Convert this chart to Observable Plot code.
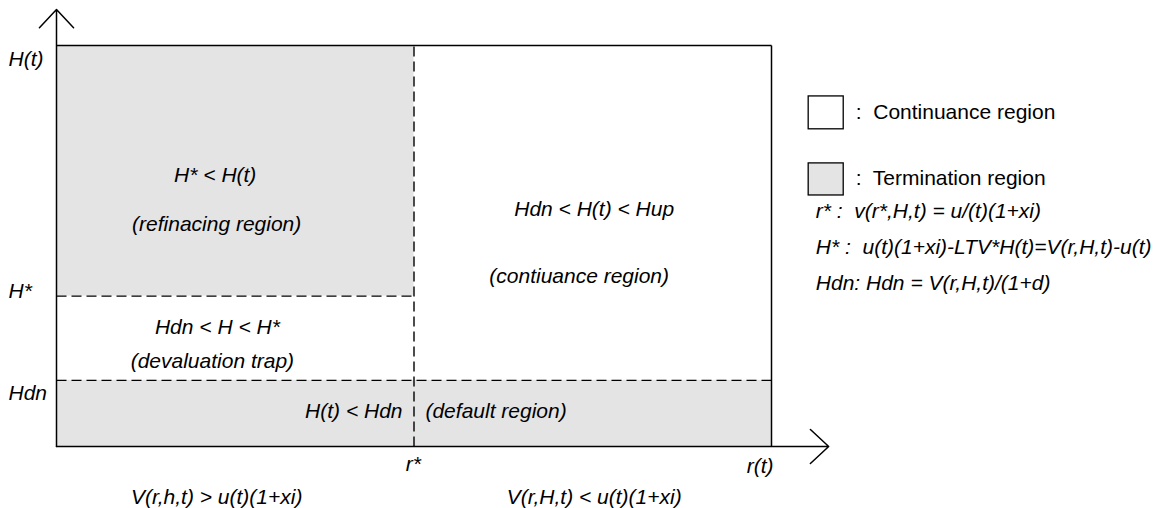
<!DOCTYPE html>
<html><head><meta charset="utf-8">
<script src="https://cdn.jsdelivr.net/npm/d3@7"></script>
<script src="https://cdn.jsdelivr.net/npm/@observablehq/plot@0.6"></script>
<style>
html,body{margin:0;padding:0;background:#fff;}
svg text{white-space:pre;}
</style></head><body><div id="chart"></div>
<script>
// ---- Data (r and H rescaled to a 0–100 scale) ----
const rBounds = [0, 50, 100];          // origin, r*, r(t)
const hBounds = [0, 16.5, 37.5, 100];  // origin, Hdn, H*, H(t)
const axisExtent = [108, 109];         // arrow tips (x, y) beyond the box

const regionKinds = ["termination", "termination"]; // refinancing, default
const regionLabels = [
  "H* < H(t)", "(refinacing region)", "Hdn < H < H*", "(devaluation trap)",
  "Hdn < H(t) < Hup", "(contiuance region)"
];
const regionLabelX = [22.2, 22.4, 22.5, 21.8, 75.2, 73.1];
const regionLabelY = [67.7, 55.5, 29.8, 21.3, 59.2, 42.5];
const defaultLabels = ["H(t) < Hdn", "(default region)"];
const defaultLabelX = [48.4, 51.6];
const defaultLabelY = [8.8, 8.8];

const yTickLabels = ["H(t)", "H*", "Hdn"];
const yTickY = [96.6, 38.75, 13.3];
const xTickLabels = ["r*", "r(t)", "V(r,h,t) > u(t)(1+xi)", "V(r,H,t) < u(t)(1+xi)"];
const xTickX = [49.9, 98.4, 22.4, 75.2];
const xTickY = [-4.4, -4.9, -12.6, -12.6];

const legendLabels = [":  Continuance region", ":  Termination region"];
const formulaLabels = [
  "r* :  v(r*,H,t) = u/(t)(1+xi)",
  "H* :  u(t)(1+xi)-LTV*H(t)=V(r,H,t)-u(t)",
  "Hdn: Hdn = V(r,H,t)/(1+d)"
];

// ---- Layout ----
const [r0, rStar, rMax] = rBounds;
const [h0, hDn, hStar, hMax] = hBounds;
const gray = "#e4e4e4";
const font = "Liberation Sans, Arial, Helvetica, sans-serif";
const fs = 21;

const regions = [
  {x1: r0, x2: rStar, y1: hStar, y2: hMax, kind: regionKinds[0]},
  {x1: r0, x2: rMax, y1: h0, y2: hDn, kind: regionKinds[1]}
];
const dashed = [
  {x1: rStar, y1: h0, x2: rStar, y2: hMax},
  {x1: r0, y1: hStar, x2: rStar, y2: hStar},
  {x1: r0, y1: hDn, x2: rMax, y2: hDn}
];
const solid = [
  {x1: r0, y1: hMax, x2: rMax, y2: hMax},
  {x1: rMax, y1: h0, x2: rMax, y2: hMax}
];
const arrows = [
  {x1: r0, y1: h0, x2: r0, y2: axisExtent[1]},
  {x1: r0, y1: h0, x2: axisExtent[0], y2: h0}
];
const regionText = regionLabels.map((t, i) => ({t, x: regionLabelX[i], y: regionLabelY[i]}));
const defText = defaultLabels.map((t, i) => ({t, x: defaultLabelX[i], y: defaultLabelY[i]}));
const yText = yTickLabels.map((t, i) => ({t, y: yTickY[i]}));
const xText = xTickLabels.map((t, i) => ({t, x: xTickX[i], y: xTickY[i]}));

// legend / formulas placed in right margin (data units extend beyond domain)
const legX1 = 105.2, legX2 = 110.1;
const legend = legendLabels.map((t, i) => ({
  t, fill: i === 0 ? "white" : gray,
  y1: [87.3, 70.6][i], y2: [79.1, 62.6][i], ty: [83.4, 66.9][i]
}));
const formulas = formulaLabels.map((t, i) => ({t, y: [58.7, 49.7, 40.7][i]}));

const italic = {fontSize: fs, fontStyle: "italic", fill: "black"};
const chart = Plot.plot({
  width: 1173, height: 508,
  marginLeft: 56, marginRight: 402, marginTop: 45, marginBottom: 62,
  x: {domain: [0, 100], axis: null},
  y: {domain: [0, 100], axis: null},
  style: {fontFamily: font, background: "white", overflow: "visible"},
  marks: [
    Plot.rect(regions, {x1: "x1", x2: "x2", y1: "y1", y2: "y2", fill: gray}),
    Plot.link(dashed, {x1: "x1", y1: "y1", x2: "x2", y2: "y2", stroke: "black", strokeWidth: 1.4, strokeDasharray: "10,5"}),
    Plot.link(solid, {x1: "x1", y1: "y1", x2: "x2", y2: "y2", stroke: "black", strokeWidth: 1.5}),
    Plot.arrow(arrows, {x1: "x1", y1: "y1", x2: "x2", y2: "y2", stroke: "black", strokeWidth: 1.5, headLength: 25, headAngle: 86}),
    Plot.text(regionText, {x: "x", y: "y", text: "t", ...italic}),
    Plot.text(defText.slice(0, 1), {x: "x", y: "y", text: "t", textAnchor: "end", ...italic}),
    Plot.text(defText.slice(1), {x: "x", y: "y", text: "t", textAnchor: "start", ...italic}),
    Plot.text(yText, {x: () => r0, y: "y", text: "t", dx: -48, textAnchor: "start", ...italic}),
    Plot.text(xText, {x: "x", y: "y", text: "t", ...italic}),
    Plot.rect(legend, {x1: () => legX1, x2: () => legX2, y1: "y1", y2: "y2", fill: "fill", stroke: "black", strokeWidth: 1.3}),
    Plot.text(legend, {x: () => legX2, y: "ty", text: "t", dx: 12, textAnchor: "start", fontSize: fs, fill: "black"}),
    Plot.text(formulas, {x: () => 106.2, y: "y", text: "t", textAnchor: "start", ...italic})
  ]
});
document.getElementById("chart").append(chart);
</script></body></html>
